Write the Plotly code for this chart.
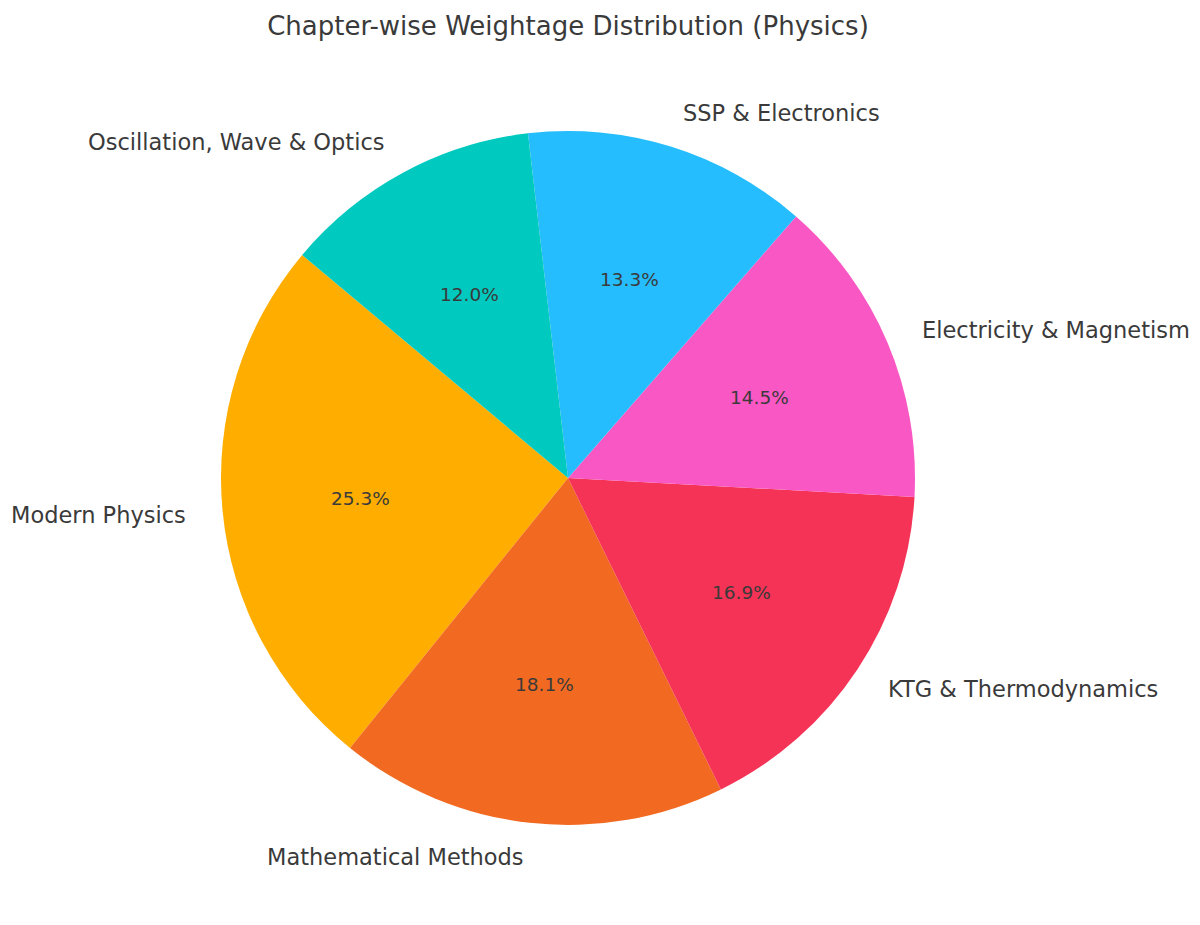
import math

import plotly.graph_objects as go

chapters = [
    "Modern Physics",
    "Mathematical Methods",
    "KTG & Thermodynamics",
    "Electricity & Magnetism",
    "SSP & Electronics",
    "Oscillation, Wave & Optics",
]
question_counts = [21, 15, 14, 12, 11, 10]
slice_colors = ["#FFAE00", "#F26A21", "#F43356", "#F957C3", "#26BDFE", "#00C9BF"]

title_text = "Chapter-wise Weightage Distribution (Physics)"

# layout in pixels (page body has an 8px margin, so shift everything back)
W, H = 1200, 925
page_margin = 8
cx, cy, radius = 568 - page_margin, 478 - page_margin, 347
title_y = 26 - page_margin
start_angle = 140  # degrees, counter-clockwise from 3 o'clock
text_color = "#3a3a3a"
font_family = "DejaVu Sans"

total = sum(question_counts)
first_span = 360 * question_counts[0] / total


def to_paper(px, py):
    return px / W, 1 - py / H


fig = go.Figure(
    go.Pie(
        labels=chapters,
        values=question_counts,
        sort=False,
        direction="counterclockwise",
        # plotly measures clockwise from 12 o'clock and, going ccw,
        # anchors the far edge of the first slice
        rotation=90 - (start_angle + first_span),
        marker=dict(colors=slice_colors, line=dict(width=0)),
        textinfo="none",
        showlegend=False,
        domain=dict(
            x=[(cx - radius) / W, (cx + radius) / W],
            y=[(H - cy - radius) / H, (H - cy + radius) / H],
        ),
    )
)

annotations = []
angle = start_angle
for name, count in zip(chapters, question_counts):
    span = 360 * count / total
    mid = math.radians(angle + span / 2)
    angle += span

    # chapter name just outside the rim
    lx = cx + 1.1 * radius * math.cos(mid)
    ly = cy - 1.1 * radius * math.sin(mid)
    px, py = to_paper(lx, ly)
    annotations.append(
        dict(
            x=px, y=py, xref="paper", yref="paper",
            text=name, showarrow=False,
            xanchor="left" if math.cos(mid) > 0 else "right",
            yanchor="middle",
            font=dict(family=font_family, size=22.5, color=text_color),
        )
    )

    # share of the total inside the slice
    tx = cx + 0.6 * radius * math.cos(mid)
    ty = cy - 0.6 * radius * math.sin(mid)
    px, py = to_paper(tx, ty)
    annotations.append(
        dict(
            x=px, y=py, xref="paper", yref="paper",
            text=f"{100 * count / total:.1f}%", showarrow=False,
            xanchor="center", yanchor="middle",
            font=dict(family=font_family, size=18.5, color=text_color),
        )
    )

tx, ty = to_paper(cx, title_y)
fig.update_layout(
    width=W,
    height=H,
    margin=dict(l=0, r=0, t=0, b=0),
    paper_bgcolor="white",
    plot_bgcolor="white",
    title=dict(
        text=title_text,
        x=tx, y=ty, xanchor="center", yanchor="middle",
        font=dict(family=font_family, size=26, color=text_color),
    ),
    annotations=annotations,
)

fig.write_html("out.html")
